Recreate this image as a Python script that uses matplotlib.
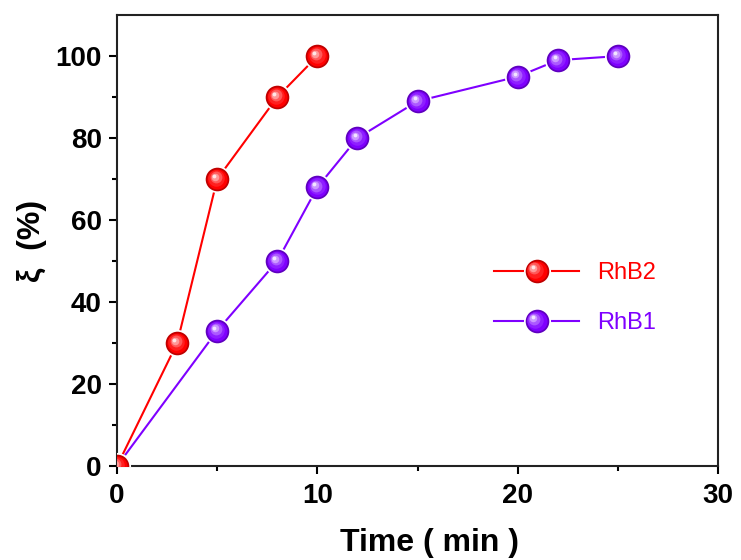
import matplotlib
matplotlib.use("Agg")
import matplotlib.pyplot as plt
from matplotlib.transforms import offset_copy
from matplotlib.lines import Line2D
from matplotlib.legend_handler import HandlerLine2D
import numpy as np

time_rhb2 = [0, 3, 5, 8, 10]
xi_rhb2 = [0, 30, 70, 90, 100]
time_rhb1 = [0, 5, 8, 10, 12, 15, 20, 22, 25]
xi_rhb1 = [0, 33, 50, 68, 80, 89, 95, 99, 100]

red = "#FF0000"
purple = "#7F00FF"

plt.rcParams['font.family'] = ['Liberation Sans', 'DejaVu Sans']

fig = plt.figure(figsize=(7.41, 5.60), dpi=100)
ax = fig.add_axes([0.158, 0.168, 0.811, 0.805])

def mix(c, w, t):
    c = np.array(matplotlib.colors.to_rgb(c))
    return tuple(c * (1 - t) + np.array(w) * t)

LAYERS = [(0.85, 0.0, 0.0), (0.7, 0.12, 0.6), (0.5, 0.35, 1.2), (0.32, 0.6, 1.7), (0.16, 0.9, 2.1)]
MS = 17

def sphere(ax, x, y, color, ms=MS, z=3, clip=True):
    ax.plot(x, y, '-', color=color, lw=1.5, zorder=z, clip_on=clip)
    ax.plot(x, y, 'o', ms=ms, mfc=color, mec='white', mew=2.5, ls='none', zorder=z + 0.1, clip_on=clip)
    ax.plot(x, y, 'o', ms=ms, mfc=mix(color, (0, 0, 0), 0.25), mec='none', ls='none', zorder=z + 0.2, clip_on=clip)
    for frac, t, off in LAYERS:
        tr = offset_copy(ax.transData, fig=fig, x=-off, y=off, units='points')
        ax.plot(x, y, 'o', ms=ms * frac, mfc=mix(color, (1, 1, 1), t), mec='none', ls='none',
                zorder=z + 0.3 + t, transform=tr, clip_on=clip)

sphere(ax, time_rhb1, xi_rhb1, purple, z=3)
sphere(ax, time_rhb2, xi_rhb2, red, z=5)

class SphereHandler(HandlerLine2D):
    def create_artists(self, legend, orig_handle, xdescent, ydescent, width, height, fontsize, trans):
        arts = super().create_artists(legend, orig_handle, xdescent, ydescent, width, height, fontsize, trans)
        color = orig_handle.get_color()
        cx = width / 2 - xdescent
        cy = height / 2 - ydescent
        scale = fig.dpi / 72.0
        extra = []
        base = Line2D([cx], [cy], marker='o', ms=MS, mfc=mix(color, (0, 0, 0), 0.25), mec='none', ls='none')
        base.set_transform(trans)
        extra.append(base)
        for frac, t, off in LAYERS:
            l = Line2D([cx - off * scale], [cy + off * scale], marker='o', ms=MS * frac,
                       mfc=mix(color, (1, 1, 1), t), mec='none', ls='none')
            l.set_transform(trans)
            extra.append(l)
        return arts + extra

h2 = Line2D([0], [0], color=red, lw=1.5, marker='o', ms=MS, mfc=red, mec='white', mew=2.5)
h1 = Line2D([0], [0], color=purple, lw=1.5, marker='o', ms=MS, mfc=purple, mec='white', mew=2.5)

ax.set_xlim(0, 30)
ax.set_ylim(0, 110)
ax.set_xticks([0, 10, 20, 30])
ax.set_xticks([5, 15, 25], minor=True)
ax.set_yticks([0, 20, 40, 60, 80, 100])
ax.set_yticks([10, 30, 50, 70, 90], minor=True)
ax.tick_params(axis='both', which='major', direction='out', length=6, width=1.5,
               labelsize=20, top=False, right=False)
ax.tick_params(axis='x', which='major', pad=6)
ax.tick_params(axis='y', which='major', pad=5)
ax.tick_params(axis='both', which='minor', direction='out', length=3.5, width=1.5,
               top=False, right=False)
for lab in ax.get_xticklabels() + ax.get_yticklabels():
    lab.set_fontweight('bold')
for s in ax.spines.values():
    s.set_linewidth(1.5)
    s.set_color('#222222')

ax.set_xlabel('Time ( min )', fontsize=23, fontweight='bold')
ax.xaxis.set_label_coords(0.52, -0.137)
ax.set_ylabel('ξ  (%)', fontsize=23, fontweight='bold', labelpad=6)

leg = ax.legend([h2, h1], ['RhB2', 'RhB1'], loc='center left', bbox_to_anchor=(0.592, 0.372),
                frameon=False, fontsize=17, handlelength=3.6, labelspacing=1.2, handletextpad=0.75,
                handler_map={Line2D: SphereHandler()})
for txt, c in zip(leg.get_texts(), [red, purple]):
    txt.set_color(c)

fig.savefig('out.png', dpi=100)
